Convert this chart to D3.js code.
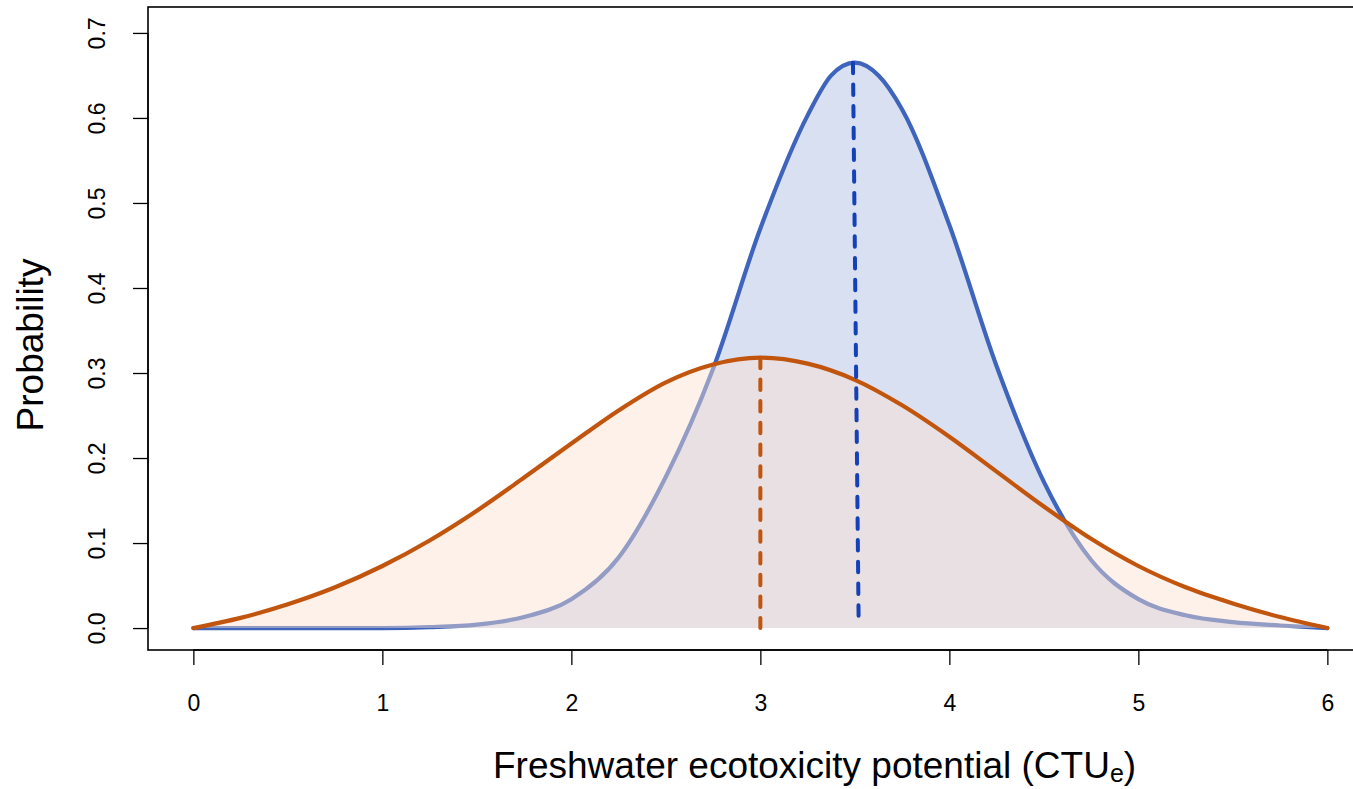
<!DOCTYPE html>
<html>
<head>
<meta charset="utf-8">
<script src="https://cdn.jsdelivr.net/npm/d3@7"></script>
<style>
  html, body { margin: 0; padding: 0; background: #ffffff; }
  svg { display: block; font-family: "Liberation Sans", Arial, sans-serif; }
</style>
</head>
<body>
<svg id="chart" width="1353" height="789"></svg>
<script>
// Density of the narrow distribution (blue)
const blueX = [0, 0.25, 0.5, 0.75, 1, 1.25, 1.5, 1.75, 2, 2.25, 2.5, 2.75, 3, 3.25, 3.375, 3.5, 3.625, 3.75, 4, 4.25, 4.5, 4.75, 5, 5.25, 5.5, 5.75, 6];
const blueY = [0, 0, 0, 0, 0, 0.001, 0.004, 0.013, 0.034, 0.083, 0.178, 0.305, 0.470, 0.603, 0.650, 0.665, 0.650, 0.610, 0.474, 0.308, 0.172, 0.080, 0.034, 0.015, 0.007, 0.003, 0];

// Density of the wide distribution (orange)
const orangeX = [0, 0.25, 0.5, 0.75, 1, 1.25, 1.5, 1.75, 2, 2.25, 2.5, 2.75, 3, 3.25, 3.5, 3.75, 4, 4.25, 4.5, 4.75, 5, 5.25, 5.5, 5.75, 6];
const orangeY = [0, 0.012, 0.028, 0.048, 0.073, 0.103, 0.138, 0.177, 0.217, 0.256, 0.289, 0.310, 0.318, 0.311, 0.292, 0.262, 0.225, 0.184, 0.143, 0.105, 0.073, 0.048, 0.029, 0.013, 0];

// Central-value markers: [x at bottom, y at bottom, x at top, y at top]
const blueMarker = [3.52, 0.007, 3.49, 0.665];
const orangeMarker = [3.0, 0.0, 3.0, 0.318];

// Axis ticks
const xTicks = [0, 1, 2, 3, 4, 5, 6];
const yTicks = [0, 0.1, 0.2, 0.3, 0.4, 0.5, 0.6, 0.7];

const svg = d3.select("#chart");

// Plot region (box), in data units
const xDomain = [-0.24, 6.24];
const yDomain = [-0.0258, 0.7305];

const x = d3.scaleLinear().domain(xDomain).range([148, 148 + 6.48 * 189]);
const y = d3.scaleLinear().domain(yDomain).range([650, 7]);

const blueData = blueX.map((v, i) => [v, blueY[i]]);
const orangeData = orangeX.map((v, i) => [v, orangeY[i]]);

const area = d3.area()
  .x(d => x(d[0])).y0(y(0)).y1(d => y(d[1]))
  .curve(d3.curveMonotoneX);
const line = d3.line()
  .x(d => x(d[0])).y(d => y(d[1]))
  .curve(d3.curveMonotoneX);

const plot = svg.append("g");

// Blue density: fill then outline
plot.append("path").datum(blueData)
  .attr("d", area).attr("fill", "#d9e0f1");
plot.append("path").datum(blueData)
  .attr("d", line).attr("fill", "none")
  .attr("stroke", "#3f64bb").attr("stroke-width", 4.2)
  .attr("stroke-linejoin", "round").attr("stroke-linecap", "round");

// Orange density: translucent fill over the blue, then outline
plot.append("path").datum(orangeData)
  .attr("d", area).attr("fill", "rgb(251,224,209)").attr("fill-opacity", 0.45);
plot.append("path").datum(orangeData)
  .attr("d", line).attr("fill", "none")
  .attr("stroke", "#c2550e").attr("stroke-width", 4.2)
  .attr("stroke-linejoin", "round").attr("stroke-linecap", "round");

// Dashed central-value lines
function marker(m, color) {
  plot.append("line")
    .attr("x1", x(m[2])).attr("y1", y(m[3]))
    .attr("x2", x(m[0])).attr("y2", y(m[1]))
    .attr("stroke", color).attr("stroke-width", 4)
    .attr("stroke-linecap", "round")
    .attr("stroke-dasharray", "10.5 11.2");
}
marker(orangeMarker, "#c2550e");
marker(blueMarker, "#1440b8");

// Box around the plot region
svg.append("rect")
  .attr("x", x(xDomain[0])).attr("y", y(yDomain[1]))
  .attr("width", x(xDomain[1]) - x(xDomain[0]))
  .attr("height", y(yDomain[0]) - y(yDomain[1]))
  .attr("fill", "none").attr("stroke", "#000").attr("stroke-width", 1.6);

// X axis
const xAxis = svg.append("g")
  .attr("transform", `translate(0,${y(yDomain[0])})`)
  .call(d3.axisBottom(x).tickValues(xTicks).tickSize(15).tickSizeOuter(0).tickFormat(d3.format("d")));
xAxis.select(".domain").attr("d", `M${x(0)},0H${x(6)}`).attr("stroke-width", 1.3);
xAxis.selectAll(".tick line").attr("stroke-width", 1.3);
xAxis.selectAll(".tick text")
  .attr("y", 61).attr("dy", null)
  .attr("font-size", 23).attr("font-family", "Liberation Sans, Arial, sans-serif")
  .attr("fill", "#000");

// Y axis
const yAxis = svg.append("g")
  .attr("transform", `translate(${x(xDomain[0])},0)`)
  .call(d3.axisLeft(y).tickValues(yTicks).tickSize(15).tickSizeOuter(0).tickFormat(d3.format(".1f")));
yAxis.select(".domain").attr("d", `M0,${y(0)}V${y(0.7)}`).attr("stroke-width", 1.3);
yAxis.selectAll(".tick line").attr("stroke-width", 1.3);
yAxis.selectAll(".tick text")
  .attr("transform", "rotate(-90)")
  .attr("x", 0).attr("y", -43).attr("dy", null)
  .attr("text-anchor", "middle")
  .attr("font-size", 23).attr("font-family", "Liberation Sans, Arial, sans-serif")
  .attr("fill", "#000");

// Axis titles
svg.append("text")
  .attr("transform", "translate(43,345) rotate(-90)")
  .attr("text-anchor", "middle")
  .attr("font-size", 37)
  .attr("fill", "#000")
  .text("Probability");

const xt = svg.append("text")
  .attr("x", 493).attr("y", 778)
  .attr("font-size", 37)
  .attr("fill", "#000");
xt.append("tspan").text("Freshwater ecotoxicity potential (CTU");
xt.append("tspan").attr("font-size", 25).attr("dy", 4).text("e");
xt.append("tspan").attr("dy", -4).text(")");
</script>
</body>
</html>
